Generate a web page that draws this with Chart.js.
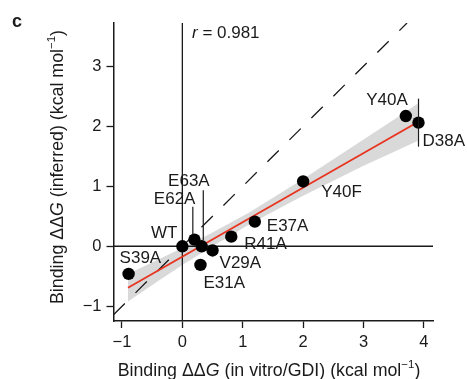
<!DOCTYPE html>
<html lang="en">
<head>
<meta charset="UTF-8">
<title>Binding ddG inferred vs in vitro</title>
<script src="https://cdn.jsdelivr.net/npm/chart.js"></script>
<style>
  body { margin: 0; background: #fff; }
  #wrap { width: 467px; height: 379px; }
</style>
</head>
<body>
<div id="wrap"><canvas id="chart" width="467" height="379"></canvas></div>
<script>
// values
const mutants  = ['WT', 'S39A', 'E62A', 'E63A', 'V29A', 'E31A', 'R41A', 'E37A', 'Y40F', 'Y40A', 'D38A'];
const inVitro  = [0, -0.89, 0.20, 0.32, 0.50, 0.30, 0.81, 1.20, 2.00, 3.70, 3.91];
const inferred = [0, -0.46, 0.11, 0.00, -0.07, -0.31, 0.16, 0.41, 1.08, 2.17, 2.06];

const fitX = [-0.9, 3.9];
const fitY = [-0.69, 2.07];
const bandX     = [-0.9, -0.4, 0, 0.5, 1.1, 1.6, 2.0, 2.5, 3.0, 3.5, 3.9];
const bandUpper = [-0.46, -0.22, -0.03, 0.23, 0.56, 0.87, 1.12, 1.45, 1.78, 2.11, 2.38];
const bandLower = [-0.92, -0.58, -0.31, 0.00, 0.36, 0.63, 0.84, 1.09, 1.34, 1.57, 1.76];

const xTicks = [-1, 0, 1, 2, 3, 4];
const yTicks = [-1, 0, 1, 2, 3];
const rValue = '0.981';

const xMin = -1.14, xMax = 4.15, yMin = -1.245, yMax = 3.72;

// label placement (pixel offset from the dot, alignment)
const labelPos = {
  WT:   [-5, -13, 'right'],
  S39A: [-9, -16, 'left'],
  E62A: [1, -40, 'right'],
  E63A: [8, -65, 'right'],
  V29A: [7, 13, 'left'],
  E31A: [3, 18, 'left'],
  R41A: [13, 8, 'left'],
  E37A: [12, 5, 'left'],
  Y40F: [18, 11, 'left'],
  Y40A: [2, -16, 'right'],
  D38A: [4, 19, 'left']
};
const leaders = {
  E62A: [-1.6, -33, -5],
  E63A: [1.6, -56, -6],
  D38A: [0, -24, 24]
};

const FONT = '"Liberation Sans", Arial, Helvetica, sans-serif';
const INK = '#1a1a1a';

const pts = (xs, ys) => xs.map((v, i) => ({ x: v, y: ys[i] }));
const minus = v => String(v).replace('-', '\u2212');

function drawRuns(ctx, runs, x, y) {
  let cx = x;
  runs.forEach(r => {
    ctx.font = r.font;
    ctx.fillText(r.t, cx, y + (r.dy || 0));
    cx += ctx.measureText(r.t).width;
  });
}
function runsWidth(ctx, runs) {
  let w = 0;
  runs.forEach(r => { ctx.font = r.font; w += ctx.measureText(r.t).width; });
  return w;
}

const overlay = {
  id: 'overlay',
  afterDatasetsDraw(chart) {
    const { ctx, scales: { x, y } } = chart;
    ctx.save();
    ctx.strokeStyle = INK;
    ctx.lineWidth = 1.2;
    mutants.forEach((m, i) => {
      const l = leaders[m];
      if (!l) return;
      const px = x.getPixelForValue(inVitro[i]) + l[0];
      const py = y.getPixelForValue(inferred[i]);
      ctx.beginPath();
      ctx.moveTo(px, py + l[1]);
      ctx.lineTo(px, py + l[2]);
      ctx.stroke();
    });
    ctx.fillStyle = INK;
    ctx.font = '17px ' + FONT;
    ctx.textBaseline = 'middle';
    mutants.forEach((m, i) => {
      const o = labelPos[m];
      ctx.textAlign = o[2];
      ctx.fillText(m, x.getPixelForValue(inVitro[i]) + o[0], y.getPixelForValue(inferred[i]) + o[1]);
    });
    ctx.restore();
  },
  afterDraw(chart) {
    const { ctx, chartArea: a } = chart;
    ctx.save();
    ctx.fillStyle = INK;
    ctx.textBaseline = 'middle';
    ctx.textAlign = 'left';

    // panel letter
    ctx.font = 'bold 18px ' + FONT;
    ctx.fillText('c', 12, 22);

    // correlation
    drawRuns(ctx, [
      { t: 'r', font: 'italic 17px ' + FONT },
      { t: ' = ' + rValue, font: '17px ' + FONT }
    ], 192, 33);

    const norm = '17.8px ' + FONT, ital = 'italic 17.8px ' + FONT, sup = '11.5px ' + FONT;
    const xRuns = [
      { t: 'Binding \u0394\u0394', font: norm },
      { t: 'G', font: ital },
      { t: ' (in vitro/GDI) (kcal mol', font: norm },
      { t: '\u22121', font: sup, dy: -6 },
      { t: ')', font: norm }
    ];
    const xw = runsWidth(ctx, xRuns);
    drawRuns(ctx, xRuns, 269 - xw / 2, 371);

    const yRuns = [
      { t: 'Binding \u0394\u0394', font: norm },
      { t: 'G', font: ital },
      { t: ' (inferred) (kcal mol', font: norm },
      { t: '\u22121', font: sup, dy: -6 },
      { t: ')', font: norm }
    ];
    ctx.translate(58, 304);
    ctx.rotate(-Math.PI / 2);
    drawRuns(ctx, yRuns, 0, 0);
    ctx.restore();
  }
};

const ctx = document.getElementById('chart').getContext('2d');
new Chart(ctx, {
  type: 'line',
  data: {
    datasets: [
      {
        data: pts(inVitro, inferred),
        showLine: false,
        pointRadius: 6.2,
        pointBackgroundColor: '#000',
        pointBorderWidth: 0,
        order: 0
      },
      {
        data: pts(fitX, fitY),
        borderColor: '#e8331f',
        borderWidth: 1.8,
        pointRadius: 0,
        order: 1
      },
      {
        data: pts([xMin, yMax], [xMin, yMax]),
        borderColor: INK,
        borderWidth: 1.3,
        borderDash: [16, 15],
        pointRadius: 0,
        order: 2
      },
      {
        data: pts([0, 0], [yMin, yMax]),
        borderColor: INK,
        borderWidth: 1.3,
        pointRadius: 0,
        order: 3
      },
      {
        data: pts([xMin, xMax], [0, 0]),
        borderColor: INK,
        borderWidth: 1.3,
        pointRadius: 0,
        order: 4
      },
      {
        data: pts(bandX, bandUpper),
        borderWidth: 0,
        pointRadius: 0,
        backgroundColor: '#d9d9d9',
        fill: '+1',
        order: 5
      },
      {
        data: pts(bandX, bandLower),
        borderWidth: 0,
        pointRadius: 0,
        fill: false,
        order: 6
      }
    ]
  },
  options: {
    responsive: false,
    animation: false,
    devicePixelRatio: 1,
    layout: { padding: { top: 23, right: 34, left: 0, bottom: 0 } },
    plugins: { legend: { display: false }, tooltip: { enabled: false } },
    scales: {
      x: {
        type: 'linear',
        min: xMin,
        max: xMax,
        afterBuildTicks: s => { s.ticks = xTicks.map(v => ({ value: v })); },
        afterFit: s => { s.height = 58; },
        grid: { drawOnChartArea: false, tickLength: 7, tickColor: INK, tickWidth: 1.3 },
        border: { display: true, color: INK, width: 1.5 },
        ticks: { color: INK, font: { family: FONT, size: 16.5 }, padding: 5, maxRotation: 0, callback: minus }
      },
      y: {
        type: 'linear',
        min: yMin,
        max: yMax,
        afterBuildTicks: s => { s.ticks = yTicks.map(v => ({ value: v })); },
        afterFit: s => { s.width = 113.5; },
        grid: { drawOnChartArea: false, tickLength: 7, tickColor: INK, tickWidth: 1.3 },
        border: { display: true, color: INK, width: 1.5 },
        ticks: { color: INK, font: { family: FONT, size: 16.5 }, padding: 5, callback: minus }
      }
    }
  },
  plugins: [overlay]
});
</script>
</body>
</html>
